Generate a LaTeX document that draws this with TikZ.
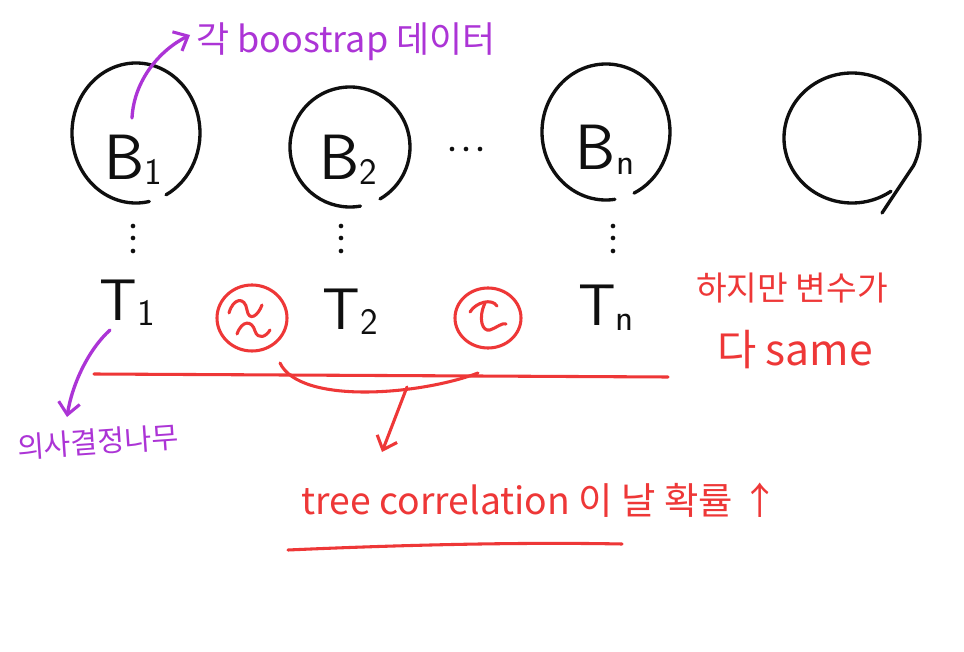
\documentclass[tikz,border=0pt]{standalone}
\usepackage{fontspec}
\newfontfamily\kr{Noto Sans CJK KR}
\usetikzlibrary{arrows.meta,shapes.geometric}
\definecolor{pen}{RGB}{15,15,15}
\definecolor{hred}{RGB}{238,55,55}
\definecolor{hpurple}{RGB}{172,52,214}
\newcommand\lowsub[1]{\raisebox{-0.08em}{\fontsize{28}{28}\selectfont #1}}
\begin{document}
\begin{tikzpicture}[x=0.75pt,y=0.75pt,line cap=round,line join=round,
  ink/.style={draw=pen,line width=2.5pt},
  redink/.style={draw=hred,line width=2.3pt},
  purink/.style={draw=hpurple,line width=2.5pt},
  dotmark/.style={fill=pen,draw=none,circle,minimum size=3.5pt,inner sep=0pt},
  blbl/.style={font=\sffamily\fontsize{48}{48}\selectfont,text=pen,inner sep=0pt},
  tlbl/.style={font=\sffamily\fontsize{44}{44}\selectfont,text=pen,inner sep=0pt},
  rtxt/.style={font=\kr\fontsize{28}{32}\selectfont,text=hred,inner sep=0pt},
  ptxt/.style={font=\kr\fontsize{27}{30}\selectfont,text=hpurple,inner sep=0pt},
  tipped/.style={-{Straight Barb[length=9pt,width=16pt,line width=2.3pt]}},
  redring/.style={draw=hred,line width=2.3pt,ellipse,inner sep=0pt}
]
\useasboundingbox (0,0) rectangle (964,-652);
\fill[white] (0,0) rectangle (964,-652);

% big circles
\coordinate (c1) at (136,-133);
\coordinate (c2) at (350,-147);
\coordinate (cn) at (606,-132);
\coordinate (c4) at (852,-138);
\draw[ink] (c1) ++(-78:64 and 70) arc[start angle=-78,end angle=-422,x radius=64,y radius=70];
\draw[ink] (c2) ++(-80:60 and 60) arc[start angle=-80,end angle=-420,x radius=60,y radius=60];
\draw[ink] (cn) ++(-82:64 and 68) arc[start angle=-82,end angle=-424,x radius=64,y radius=68];
\draw[ink] (c4) ++(-55:68 and 65) arc[start angle=-55,end angle=-385,x radius=68,y radius=65] -- (882,-213);

% B labels
\node[blbl] (b1) at (133,-160) {B\lowsub{1}};
\node[blbl] (b2) at (348,-160) {B\lowsub{2}};
\node[blbl] (bn) at (605,-150) {B\lowsub{n}};

% horizontal dots
\node[dotmark] (h1) at (452,-149) {};
\node[dotmark] (h2) at (466,-149) {};
\node[dotmark] (h3) at (480,-149) {};

% vertical dots
\foreach \x/\n in {133/1,341/2,613/3}{
  \node[dotmark] (v\n a) at (\x,-226) {};
  \node[dotmark] (v\n b) at (\x,-238) {};
  \node[dotmark] (v\n c) at (\x,-251) {};
}

% T labels
\node[tlbl] (t1) at (127,-303) {T\lowsub{1}};
\node[tlbl] (t2) at (350,-312) {T\lowsub{2}};
\node[tlbl] (tn) at (606,-308) {T\lowsub{n}};

% red circled squiggles
\node[redring,minimum width=52.5pt,minimum height=49.5pt] (r1) at (252,-318) {};
\node[redring,minimum width=49.5pt,minimum height=45pt] (r2) at (488,-318) {};
\draw[redink] (229,-313) .. controls (233,-298) and (245,-296) .. (247,-310) .. controls (249,-322) and (258,-316) .. (262,-305);
\draw[redink] (237,-334) .. controls (242,-320) and (252,-320) .. (255,-331) .. controls (258,-340) and (266,-337) .. (270,-330);
\draw[redink] (470,-312) .. controls (476,-302) and (492,-298) .. (497,-306);
\draw[redink] (485,-303) .. controls (478,-318) and (482,-332) .. (490,-330) .. controls (496,-328) and (503,-322) .. (506,-324);

% red line and curve
\coordinate (la) at (94,-374);
\coordinate (lb) at (668,-377);
\draw[redink] (la) -- (lb);
\coordinate (ca) at (280,-363);
\coordinate (cb) at (478,-373);
\draw[redink] (ca) .. controls (300,-405) and (420,-395) .. (cb);
\coordinate (aa) at (407,-387);
\coordinate (ab) at (382,-452);
\draw[redink,tipped] (aa) -- (ab);

% texts
\node[ptxt,anchor=west] (ptop) at (196,-42) {각 boostrap 데이터};
\node[ptxt,rotate=4,font=\kr\fontsize{22}{26}\selectfont] (pbot) at (98,-442) {의사결정나무};
\node[rtxt,font=\kr\fontsize{25}{30}\selectfont] (rs1) at (792,-288) {하지만 변수가};
\node[rtxt,font=\kr\fontsize{32}{36}\selectfont] (rs2) at (795,-350) {다 same};
\node[rtxt] (rbig) at (540,-500) {tree correlation 이 날 확률 ↑};
\coordinate (ua) at (288,-550);
\coordinate (ub) at (622,-544);
\draw[redink] (ua) .. controls (400,-545) and (520,-542) .. (ub);

% purple arrows
\coordinate (pa) at (132,-118);
\coordinate (pb) at (190,-35);
\draw[purink,tipped] (pa) .. controls (134,-80) and (160,-50) .. (pb);
\coordinate (qa) at (110,-330);
\coordinate (qb) at (67,-417);
\draw[purink,tipped] (qa) .. controls (88,-350) and (72,-385) .. (qb);
\end{tikzpicture}
\end{document}
